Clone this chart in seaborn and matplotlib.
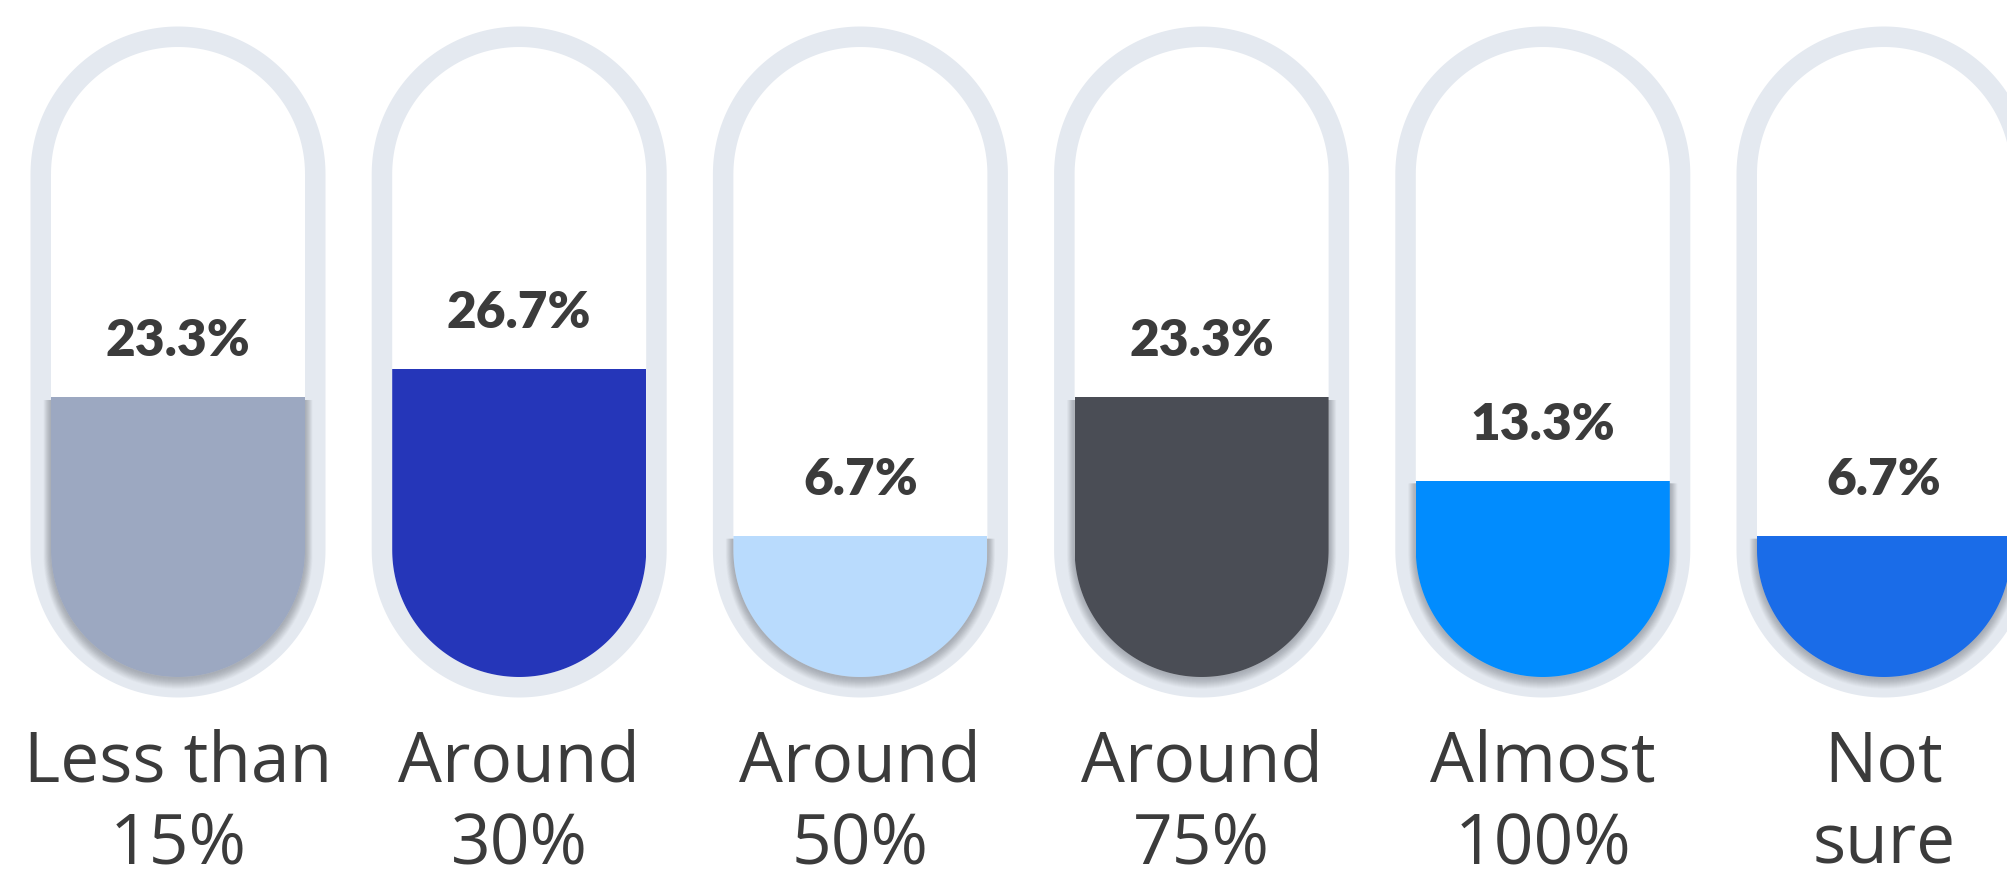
import numpy as np
import pandas as pd
import matplotlib
matplotlib.use("Agg")
import matplotlib.pyplot as plt
from matplotlib.patches import Polygon
import seaborn as sns

# --- data -------------------------------------------------------------
categories = ["Less than\n15%", "Around\n30%", "Around\n50%",
              "Around\n75%", "Almost\n100%", "Not\nsure"]
shares = [23.3, 26.7, 6.7, 23.3, 13.3, 6.7]
value_labels = ["23.3%", "26.7%", "6.7%", "23.3%", "13.3%", "6.7%"]
colors = ["#9ca8c1", "#2536b9", "#b9dbfd", "#4a4d55", "#018cfe", "#1a6ce8"]
shadowed = [True, False, True, True, True, True]

# --- layout -----------------------------------------------------------
FIG_W, FIG_H, DPI = 2008, 871, 100
PX_X = 341.2      # pixels per category step
PX_Y = 8.36       # pixels per percentage point
BASE = -10.2      # level of the tube floor (percent units)
X0 = 178          # pixel centre of the first tube
FLOOR_PX = 677    # pixel row (from top) of the tube floor
R_IN, RING = 127, 20.5
TUBE_H = 630      # inner tube height in pixels
RING_COLOR = "#e4e9f0"
TEXT_COLOR = "#3b3b3b"

sns.set_theme(style="white")
plt.rcParams["font.family"] = ["Lato", "DejaVu Sans"]

fig = plt.figure(figsize=(FIG_W / DPI, FIG_H / DPI), dpi=DPI)
ax = fig.add_axes([0, 0, 1, 1])


def capsule(cx, y_bot, y_top, r_px, n=120):
    rx, ry = r_px / PX_X, r_px / PX_Y
    t = np.linspace(np.pi, 2 * np.pi, n)
    bx, by = cx + rx * np.cos(t), y_bot + ry + ry * np.sin(t)
    t2 = np.linspace(0, np.pi, n)
    tx, ty = cx + rx * np.cos(t2), y_top - ry + ry * np.sin(t2)
    return np.column_stack([np.r_[bx, tx], np.r_[by, ty]])


def cup(cx, y_bot, y_top, r_px, n=120):
    rx, ry = r_px / PX_X, r_px / PX_Y
    t = np.linspace(np.pi, 2 * np.pi, n)
    bx, by = cx + rx * np.cos(t), y_bot + ry + ry * np.sin(t)
    xs = np.r_[bx, cx + rx, cx - rx]
    ys = np.r_[by, y_top, y_top]
    return np.column_stack([xs, ys])


inner_top = BASE + TUBE_H / PX_Y
outer_bot = BASE - RING / PX_Y
outer_top = inner_top + RING / PX_Y

# bars from the data
df = pd.DataFrame({"category": categories, "share": shares})
sns.barplot(data=df, x="category", y="share", hue="category",
            palette=colors, saturation=1, width=2 * R_IN / PX_X,
            legend=False, ax=ax, zorder=3, linewidth=0)

bars = [b for cont in ax.containers for b in cont]

for i in range(len(categories)):
    outer = Polygon(capsule(i, outer_bot, outer_top, R_IN + RING),
                    closed=True, facecolor=RING_COLOR, edgecolor="none",
                    zorder=1)
    inner = Polygon(capsule(i, BASE, inner_top, R_IN), closed=True,
                    facecolor="white", edgecolor="none", zorder=1.5)
    ax.add_patch(outer)
    ax.add_patch(inner)

    if shadowed[i]:
        # soft drop shadow under the liquid: stacked, growing translucent cups
        for k in range(22, 0, -1):
            sh = Polygon(cup(i, BASE - (1.0 + 0.5 * k) / PX_Y,
                             shares[i] - 3 / PX_Y, R_IN + 0.35 * k),
                         closed=True, facecolor="#3a3f48", edgecolor="none",
                         alpha=0.014, zorder=2)
            ax.add_patch(sh)
            sh.set_clip_path(outer)

for bar in bars:
    i = int(round(bar.get_x() + bar.get_width() / 2))
    bar.set_y(BASE)
    bar.set_height(shares[i] - BASE)
    clip = Polygon(capsule(i, BASE, inner_top, R_IN), closed=True,
                   transform=ax.transData)
    bar.set_clip_path(clip)

for i, (cat, v, lab) in enumerate(zip(categories, shares, value_labels)):
    ax.text(i, v + 41 / PX_Y, lab, ha="center", va="baseline",
            fontsize=37, fontweight="heavy", color=TEXT_COLOR, zorder=5)
    line1, line2 = cat.split("\n")
    for txt, row in ((line1, 781), (line2, 863)):
        ax.text(i, BASE - (row - FLOOR_PX) / PX_Y, txt, ha="center",
                va="baseline", fontsize=50, color=TEXT_COLOR, zorder=5,
                family=["Open Sans", "DejaVu Sans"])

ax.set_xlim(-X0 / PX_X, (FIG_W - X0) / PX_X)
ax.set_ylim(BASE - (FIG_H - FLOOR_PX) / PX_Y, BASE + FLOOR_PX / PX_Y)
ax.set_axis_off()

fig.savefig("out.png", dpi=DPI, facecolor="white")
